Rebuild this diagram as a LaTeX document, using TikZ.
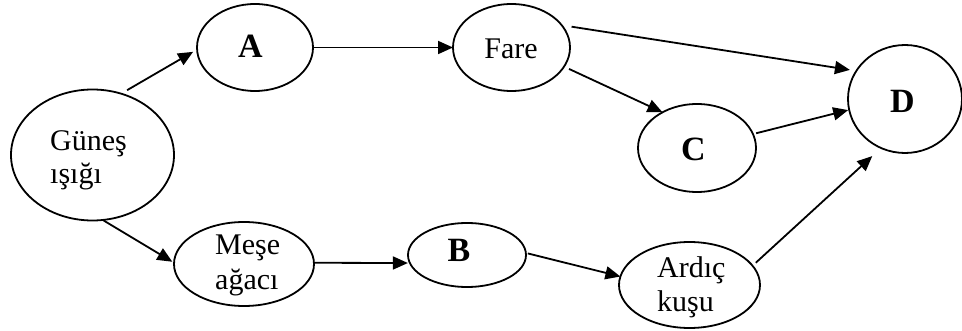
\documentclass[tikz,border=0pt]{standalone}
\usepackage{fontspec}
\setmainfont{Liberation Serif}
\usetikzlibrary{arrows.meta,shapes.geometric}
\begin{document}
\begin{tikzpicture}[x=1pt,y=-1pt,
  oval/.style={draw,ellipse,line width=1.8pt,inner sep=0pt,outer sep=0pt},
  lbl/.style={inner sep=0pt,font=\fontsize{30}{34}\selectfont},
  big/.style={inner sep=0pt,anchor=base,font=\fontsize{34}{40}\selectfont\bfseries},
  link/.style={line width=1.8pt,-{Triangle[length=15pt,width=13pt]}}]
\useasboundingbox (0,0) rectangle (962,331);

% ovals
\node[oval,minimum width=163pt,minimum height=131pt] (gun)  at (92.5,155) {};
\node[oval,minimum width=116pt,minimum height=87pt]  (a)    at (255,47.5) {};
\node[oval,minimum width=117pt,minimum height=87pt]  (fare) at (511.5,47.5) {};
\node[oval,minimum width=118pt,minimum height=88pt]  (c)    at (697,148) {};
\node[oval,minimum width=114pt,minimum height=108pt] (d)    at (905,99) {};
\node[oval,minimum width=140pt,minimum height=84pt]  (mese) at (244,264) {};
\node[oval,minimum width=118pt,minimum height=64pt]  (b)    at (467,255) {};
\node[oval,minimum width=141pt,minimum height=86pt]  (ard)  at (689.5,285) {};

% labels
\node[lbl,anchor=base west] (gun-1)  at (50,151) {Güneş};
\node[lbl,anchor=base west] (gun-2)  at (50,184) {ışığı};
\node[lbl,anchor=base west] (mese-1) at (215,255) {Meşe};
\node[lbl,anchor=base west] (mese-2) at (215,290) {ağacı};
\node[lbl,anchor=base west] (ard-1)  at (657,278) {Ardıç};
\node[lbl,anchor=base west] (ard-2)  at (657,312) {kuşu};
\node[lbl,anchor=base]      (fare-t) at (511,59) {Fare};
\node[big] (a-t) at (250.5,58) {A};
\node[big] (b-t) at (459,262) {B};
\node[big] (c-t) at (693.5,161) {C};
\node[big] (d-t) at (902.5,113) {D};

% arrows
\draw[link,shorten <=7pt,shorten >=4.6pt] (gun.65) -- (a.182);
\draw[link] (a.0) -- (fare.180);
\draw[link,shorten <=10pt,shorten >=6.5pt] (fare.24) -- (d.150);
\draw[link,shorten <=5.5pt] (fare.-20) -- (c.134);
\draw[link,shorten <=3.3pt,shorten >=1pt] (c.14) -- (d.191);
\draw[link,shorten >=2pt] (gun.-81) -- (mese.179);
\draw[link,shorten >=2pt] (mese.1) -- (b.188);
\draw[link,shorten <=2pt] (b.2) -- (ard.173);
\draw[link,shorten <=4.4pt,shorten >=12pt] (ard.17) -- (d.-116);
\end{tikzpicture}
\end{document}
